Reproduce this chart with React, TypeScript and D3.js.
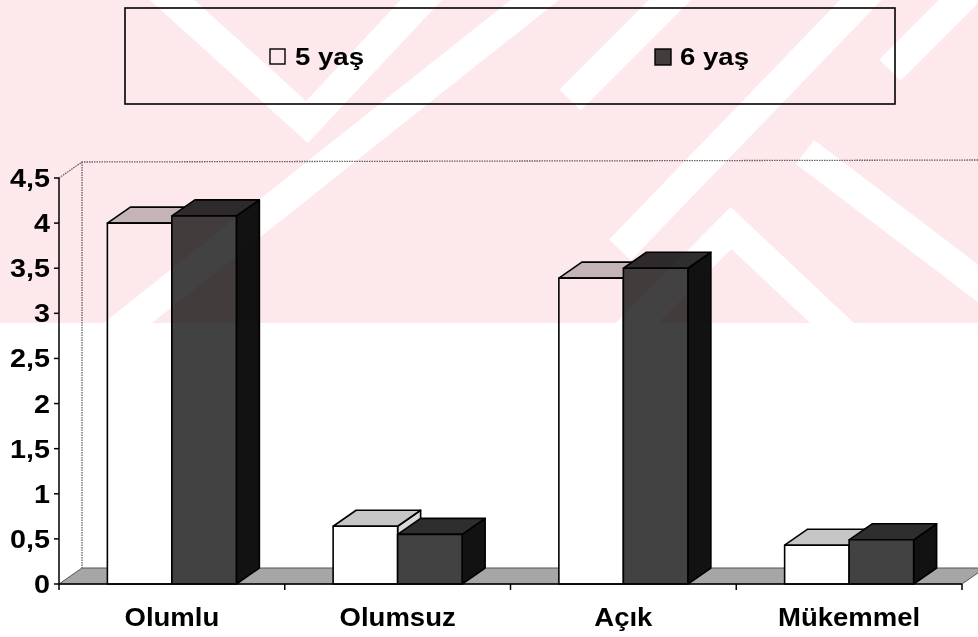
import React from 'react';
import * as d3 from 'd3';

const categories = ['Olumlu', 'Olumsuz', 'Açık', 'Mükemmel'];
const seriesNames = ['5 yaş', '6 yaş'];
const age5 = [4.0, 0.64, 3.39, 0.43];
const age6 = [4.08, 0.55, 3.5, 0.49];
const yTicks = [0, 0.5, 1, 1.5, 2, 2.5, 3, 3.5, 4, 4.5];

const W = 978;
const H = 637;
const DX = 23;
const DY = -16;
const FONT = 'Arial, "Liberation Sans", sans-serif';

// colours of the three faces per series: front, top, side
const faces = [
  { front: '#ffffff', top: '#c6c6c6', side: '#d8d8d8' },
  { front: '#424242', top: '#2e2e2e', side: '#121212' },
];

// rough watermark stripes (white over pink)
const stripes = [
  [[150, -20], [307, 122], [440, -20]],
  [[100, 345], [560, -20]],
  [[570, 100], [690, -20]],
  [[620, 250], [880, -20]],
  [[620, 340], [731, 228], [850, 340]],
  [[805, 152], [1000, 300]],
  [[890, 70], [980, -20]],
];

export default function App() {
  const x = d3.scaleBand<string>().domain(categories).range([59, 962]).padding(0);
  const bw = x.bandwidth();
  const groupW = (bw * 2) / 3.5;
  const inner = d3.scaleBand<string>().domain(seriesNames).range([0, groupW]);
  const y = d3.scaleLinear().domain([0, 4.5]).range([584, 178]);
  const y0 = y(0);
  const series = [age5, age6];
  const fmt = (v: number) => String(v).replace('.', ',');
  const boundaries = [...categories.map((c) => x(c) as number), x.range()[1]];
  const line = d3.line();

  return (
    <svg width={W} height={H} style={{ position: 'absolute', left: 0, top: 0, background: '#fff' }}>
      <defs>
        <clipPath id="wm">
          <rect x={0} y={0} width={W} height={323} />
        </clipPath>
      </defs>

      {/* back wall edges */}
      <g fill="none" stroke="#666" strokeWidth={1.3} strokeDasharray="1.5 1">
        <path d={line([[59, y(4.5)], [59 + DX, y(4.5) + DY], [W, y(4.5) + DY - 2]]) as string} />
        <path d={line([[59 + DX, y(4.5) + DY], [59 + DX, y0 + DY]]) as string} />
      </g>

      {/* floor */}
      <polygon
        points={[[59, y0], [59 + DX, y0 + DY], [962 + DX, y0 + DY], [962, y0]].map((p) => p.join(',')).join(' ')}
        fill="#a6a6a6"
        stroke="#555"
        strokeWidth={1}
      />

      {/* bars */}
      {categories.map((c, i) => (
        <g key={c}>
          {seriesNames.map((s, k) => {
            const v = series[k][i];
            const x0 = (x(c) as number) + (bw - groupW) / 2 + (inner(s) as number);
            const w = inner.bandwidth();
            const top = y(v);
            const f = faces[k];
            const topPoly = [[x0, top], [x0 + DX, top + DY], [x0 + w + DX, top + DY], [x0 + w, top]];
            const sidePoly = [[x0 + w, top], [x0 + w + DX, top + DY], [x0 + w + DX, y0 + DY], [x0 + w, y0]];
            return (
              <g key={s} stroke="#000" strokeWidth={1.6} strokeLinejoin="round">
                <polygon points={sidePoly.map((p) => p.join(',')).join(' ')} fill={f.side} />
                <polygon points={topPoly.map((p) => p.join(',')).join(' ')} fill={f.top} />
                <rect x={x0} y={top} width={w} height={y0 - top} fill={f.front} />
              </g>
            );
          })}
        </g>
      ))}

      {/* y axis */}
      <g fontFamily={FONT} fontWeight="bold" fontSize={25} fill="#000">
        <line x1={59} x2={59} y1={y(4.5)} y2={y0} stroke="#000" strokeWidth={1.5} />
        {yTicks.map((t) => (
          <g key={t}>
            <line x1={54} x2={59} y1={y(t)} y2={y(t)} stroke="#000" strokeWidth={1.5} />
            <text transform={`translate(50,${y(t)}) scale(1.15,1)`} dy="0.36em" textAnchor="end">
              {fmt(t)}
            </text>
          </g>
        ))}
      </g>

      {/* x axis */}
      <g fontFamily={FONT} fontWeight="bold" fontSize={25} fill="#000">
        <line x1={59} x2={962} y1={y0} y2={y0} stroke="#000" strokeWidth={1.5} />
        {boundaries.map((b, i) => (
          <line key={i} x1={b} x2={b} y1={y0} y2={y0 + 6} stroke="#000" strokeWidth={1.5} />
        ))}
        {categories.map((c) => (
          <text key={c} transform={`translate(${(x(c) as number) + bw / 2},626) scale(1.1,1)`} textAnchor="middle">
            {c}
          </text>
        ))}
      </g>

      {/* legend */}
      <g fontFamily={FONT} fontWeight="bold" fontSize={24} fill="#000">
        <rect x={125} y={8} width={770} height={96} fill="none" stroke="#000" strokeWidth={1.6} />
        <rect x={270} y={49} width={15} height={15} fill={faces[0].front} stroke="#000" strokeWidth={1.4} />
        <text transform="translate(295,65) scale(1.15,1)">{seriesNames[0]}</text>
        <rect x={655} y={49} width={16} height={16} fill={faces[1].front} stroke="#000" strokeWidth={1.4} />
        <text transform="translate(680,65) scale(1.15,1)">{seriesNames[1]}</text>
      </g>

      {/* watermark tint */}
      <g clipPath="url(#wm)" style={{ mixBlendMode: 'multiply' }} pointerEvents="none">
        <rect x={0} y={0} width={W} height={323} fill="#fde8ec" />
        {stripes.map((s, i) => (
          <path
            key={i}
            d={line(s as [number, number][]) as string}
            fill="none"
            stroke="#fff"
            strokeWidth={30}
            strokeLinejoin="miter"
          />
        ))}
      </g>
    </svg>
  );
}
